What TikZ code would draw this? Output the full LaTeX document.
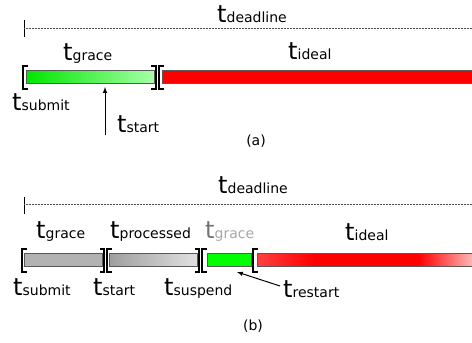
\documentclass[tikz,border=0pt]{standalone}
\usepackage{fontspec}
\setmainfont{DejaVu Sans}
\usepackage{tikz}

\newcommand{\tsub}[1]{{\fontsize{24}{24}\selectfont t}{\fontsize{14}{14}\selectfont #1}}

\pgfdeclarehorizontalshading{redfade}{100bp}{color(0bp)=(red!75); color(25bp)=(red!75); color(38bp)=(red); color(62bp)=(red); color(75bp)=(red!25); color(100bp)=(red!25)}

\tikzset{
  lbl/.style={anchor=base west, inner sep=0pt},
  bar/.style={draw=black!65, line width=1pt},
  brk/.style={line width=1.6pt, black},
  dline/.style={densely dotted, black!70, line width=0.5pt},
  tickline/.style={black, line width=0.8pt},
  captxt/.style={font=\fontsize{14}{14}\selectfont, inner sep=0pt},
  pointer/.style={-latex, line width=1pt}
}

\begin{document}
\begin{tikzpicture}[x=1pt, y=-1pt]
      \useasboundingbox (0,0) rectangle (472,343);

      % (a) deadline
      \coordinate (ta0) at (24,28);
      \coordinate (ta1) at (474,28);
      \draw[tickline] (24,20) -- (24,37);
      \draw[dline] (ta0) -- (ta1);
      \node[lbl] (deadlineA) at (217,22) {\tsub{deadline}};

      % (a) bars
      \draw[bar, left color=green!90!black, right color=green!35] (26,70) rectangle (154,83);
      \draw[bar, fill=red] (162,70) rectangle (475,83);
      \draw[brk] (28,66) -- (23,66) -- (23,89) -- (28,89);
      \draw[brk] (151,66) -- (156,66) -- (156,89) -- (151,89);
      \draw[brk] (164,66) -- (159,66) -- (159,89) -- (164,89);

      % (a) labels
      \node[lbl] (graceA) at (63,60) {\tsub{grace}};
      \node[lbl] (idealA) at (288,59) {\tsub{ideal}};
      \node[lbl] (submitA) at (12,110) {\tsub{submit}};
      \node[lbl] (startA) at (117,132) {\tsub{start}};
      \coordinate (arrA0) at (105,135);
      \coordinate (arrA1) at (105,87);
      \draw[pointer] (arrA0) -- (arrA1);
      \node[captxt] (capA) at (256,141) {(a)};

      % (b) deadline
      \coordinate (tb0) at (24,204);
      \coordinate (tb1) at (474,204);
      \draw[tickline] (24,197) -- (24,214);
      \draw[dline] (tb0) -- (tb1);
      \node[lbl] (deadlineB) at (218,193) {\tsub{deadline}};

      % (b) bars
      \draw[bar, fill=black!30] (24,253) rectangle (102,266);
      \draw[bar, left color=black!38, right color=black!12] (109,253) rectangle (197,266);
      \draw[bar, fill=green] (207,253) rectangle (251,266);
      \draw[bar, shading=redfade] (257,253) rectangle (475,266);
      \draw[brk] (27,249) -- (22,249) -- (22,272) -- (27,272);
      \draw[brk] (100,249) -- (104,249) -- (104,272) -- (100,272);
      \draw[brk] (112,249) -- (107,249) -- (107,272) -- (112,272);
      \draw[brk] (195,249) -- (199,249) -- (199,272) -- (195,272);
      \draw[brk] (207,249) -- (202,249) -- (202,272) -- (207,272);
      \draw[brk] (258,249) -- (253,249) -- (253,272) -- (258,272);

      % (b) labels
      \node[lbl] (graceB) at (36,238) {\tsub{grace}};
      \node[lbl] (processedB) at (110,238) {\tsub{processed}};
      \node[lbl, text=black!55] (graceC) at (205,238) {{\fontsize{24}{24}\selectfont t}{\fontsize{14}{14}\selectfont\color{black!35}grace}};
      \node[lbl] (idealB) at (345,240) {\tsub{ideal}};
      \node[lbl] (submitB) at (13,295) {\tsub{submit}};
      \node[lbl] (startB) at (93,295) {\tsub{start}};
      \node[lbl] (suspendB) at (164,295) {\tsub{suspend}};
      \node[lbl] (restartB) at (283,297) {\tsub{restart}};
      \coordinate (arrB0) at (280,286);
      \coordinate (arrB1) at (237,272);
      \draw[pointer] (arrB0) -- (arrB1);
      \node[captxt] (capB) at (253,326) {(b)};
    \end{tikzpicture}
\end{document}
